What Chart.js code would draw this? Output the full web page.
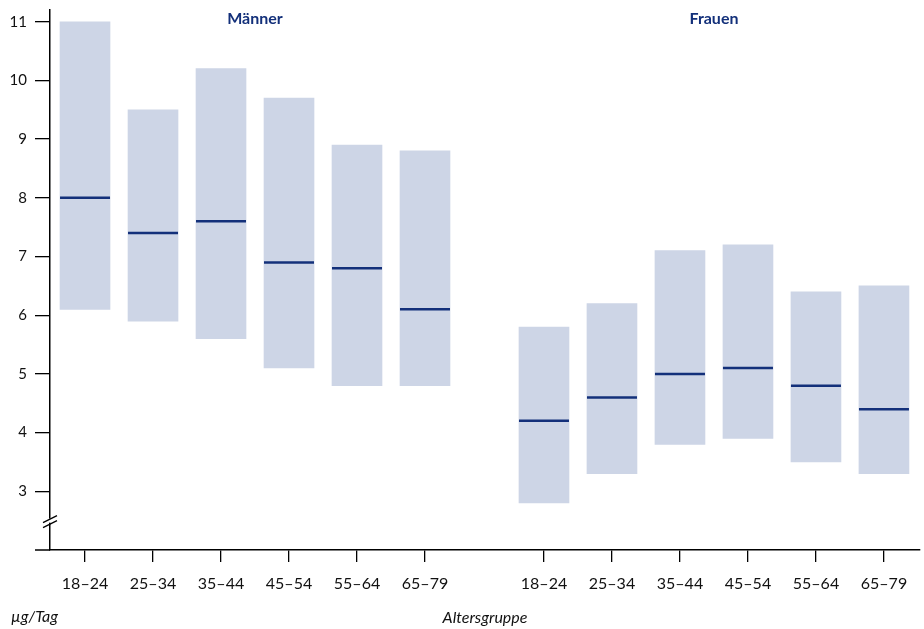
<!DOCTYPE html>
<html lang="de">
<head>
    <meta charset="UTF-8">
    <title>Altersgruppe µg/Tag</title>
    <script src="https://cdn.jsdelivr.net/npm/chart.js"></script>
    <style>
        html, body { margin: 0; padding: 0; background: #fff; }
        #wrap { width: 924px; height: 629px; }
    </style>
</head>
<body>
    <div id="wrap"><canvas id="chart" width="924" height="629"></canvas></div>

    <script>
        // values (µg/Tag)
        var ageGroups = ['18–24', '25–34', '35–44', '45–54', '55–64', '65–79'];
        var menLow    = [6.1, 5.9, 5.6, 5.1, 4.8, 4.8];
        var menHigh   = [11.0, 9.5, 10.2, 9.7, 8.9, 8.8];
        var menMedian = [8.0, 7.4, 7.6, 6.9, 6.8, 6.1];
        var womenLow    = [2.8, 3.3, 3.8, 3.9, 3.5, 3.3];
        var womenHigh   = [5.8, 6.2, 7.1, 7.2, 6.4, 6.5];
        var womenMedian = [4.2, 4.6, 5.0, 5.1, 4.8, 4.4];
        var yTicks = [3, 4, 5, 6, 7, 8, 9, 10, 11];

        var GAP = 0.75;      // extra space between the two groups
        var FONT = 'Lato, "Noto Sans", sans-serif';
        var NAVY = '#13307a';
        var BOX = '#cdd5e6';

        var menX = ageGroups.map(function (g, i) { return i + 1; });
        var womenX = ageGroups.map(function (g, i) { return i + 1 + ageGroups.length + GAP; });
        var allX = menX.concat(womenX);
        var allLabels = ageGroups.concat(ageGroups);

        var ranges = [], medians = [];
        menX.forEach(function (x, i) {
            ranges.push({ x: x, y: [menLow[i], menHigh[i]] });
            medians.push({ x: x, y: menMedian[i] });
        });
        womenX.forEach(function (x, i) {
            ranges.push({ x: x, y: [womenLow[i], womenHigh[i]] });
            medians.push({ x: x, y: womenMedian[i] });
        });

        // the end labels sit well inside the axes, so no extra room is needed
        function noEdgePadding(s) {
            s.paddingTop = 0; s.paddingBottom = 0;
            s.paddingLeft = 0; s.paddingRight = 0;
        }

        var extras = {
            id: 'extras',
            afterDraw: function (chart) {
                var ctx = chart.ctx, xs = chart.scales.x, ys = chart.scales.y;
                var left = chart.chartArea.left, bottom = chart.chartArea.bottom;
                ctx.save();
                // x axis runs a little left of the y axis
                ctx.strokeStyle = '#000';
                ctx.lineWidth = 1.5;
                ctx.beginPath();
                ctx.moveTo(left - 15, bottom);
                ctx.lineTo(left, bottom);
                ctx.stroke();
                // axis break
                var yb = ys.getPixelForValue(2.5);
                ctx.fillStyle = '#fff';
                ctx.fillRect(left - 3, yb - 2, 6, 4);
                ctx.lineWidth = 1.3;
                ctx.beginPath();
                ctx.moveTo(left - 7, yb + 2); ctx.lineTo(left + 7, yb - 5);
                ctx.moveTo(left - 7, yb + 7); ctx.lineTo(left + 7, yb);
                ctx.stroke();
                // group titles
                ctx.fillStyle = NAVY;
                ctx.font = 'bold 16px ' + FONT;
                ctx.textAlign = 'center';
                ctx.textBaseline = 'middle';
                ctx.fillText('Männer', xs.getPixelForValue((menX[2] + menX[3]) / 2), 19);
                ctx.fillText('Frauen', xs.getPixelForValue((womenX[2] + womenX[3]) / 2), 19);
                // unit
                ctx.fillStyle = '#111';
                ctx.font = 'italic 16px ' + FONT;
                ctx.textAlign = 'left';
                ctx.fillText('µg/Tag', 11, 617);
                ctx.restore();
            }
        };

        new Chart(document.getElementById('chart'), {
            type: 'bar',
            data: {
                datasets: [{
                    type: 'line',
                    data: medians,
                    showLine: false,
                    pointStyle: 'line',
                    pointRadius: 25,
                    pointBorderWidth: 2.5,
                    borderColor: NAVY,
                    backgroundColor: NAVY,
                    order: 0
                }, {
                    data: ranges,
                    backgroundColor: BOX,
                    borderWidth: 0,
                    barThickness: 50,
                    order: 1
                }]
            },
            options: {
                responsive: false,
                animation: false,
                events: [],
                layout: { autoPadding: false, padding: { top: 10, right: 4, left: 0, bottom: 0 } },
                plugins: { legend: { display: false }, tooltip: { enabled: false } },
                scales: {
                    x: {
                        type: 'linear',
                        offset: false,
                        min: 0.485,
                        max: 13.28,
                        afterBuildTicks: function (s) {
                            s.ticks = allX.map(function (v) { return { value: v }; });
                        },
                        afterFit: function (s) { s.height = 79; noEdgePadding(s); },
                        ticks: {
                            autoSkip: false,
                            maxRotation: 0,
                            padding: 12,
                            color: '#111',
                            font: { family: FONT, size: 16 },
                            callback: function (v) {
                                var i = allX.indexOf(v);
                                return i < 0 ? '' : allLabels[i];
                            }
                        },
                        grid: { offset: false, drawOnChartArea: false, tickLength: 12, color: '#000', lineWidth: 1.3 },
                        border: { color: '#000', width: 1.5 },
                        title: {
                            display: true,
                            text: 'Altersgruppe',
                            color: '#111',
                            font: { family: FONT, size: 16, style: 'italic' },
                            padding: { top: 4, bottom: 2 }
                        }
                    },
                    y: {
                        min: 2,
                        max: 11.2,
                        afterBuildTicks: function (s) {
                            s.ticks = yTicks.map(function (v) { return { value: v }; });
                        },
                        afterFit: function (s) { s.width = 50; noEdgePadding(s); },
                        ticks: {
                            padding: 8,
                            color: '#111',
                            font: { family: FONT, size: 15 }
                        },
                        grid: { drawOnChartArea: false, tickLength: 15, color: '#000', lineWidth: 1.3 },
                        border: { color: '#000', width: 1.5 }
                    }
                }
            },
            plugins: [extras]
        });
    </script>
</body>
</html>
